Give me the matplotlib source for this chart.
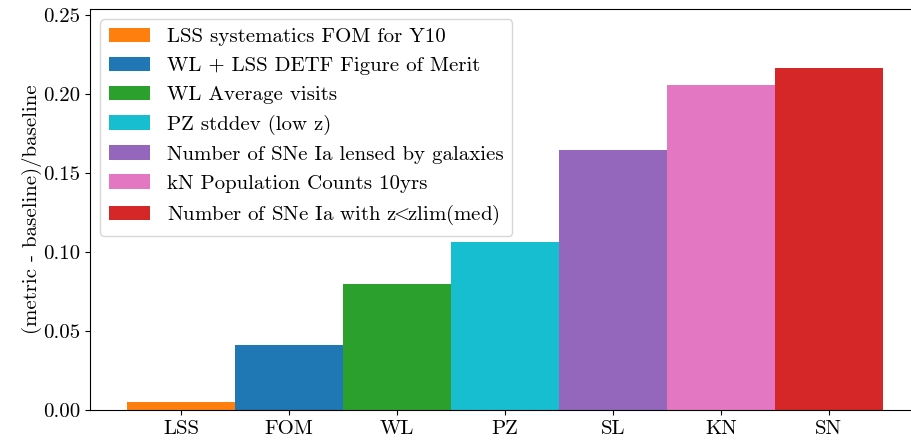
import matplotlib
matplotlib.use("Agg")
import matplotlib.pyplot as plt

# data
short_names = ["LSS", "FOM", "WL", "PZ", "SL", "KN", "SN"]
long_names = ["LSS systematics FOM for Y10",
              "WL + LSS DETF Figure of Merit",
              "WL Average visits",
              "PZ stddev (low z)",
              "Number of SNe Ia lensed by galaxies",
              "kN Population Counts 10yrs",
              r"Number of SNe Ia with z$\!\!<\!\!$zlim(med)"]
values = [0.005, 0.041, 0.0797, 0.1063, 0.1645, 0.2055, 0.2165]
colors = ["tab:orange", "tab:blue", "tab:green", "tab:cyan",
          "tab:purple", "tab:pink", "tab:red"]

plt.rcParams['font.family'] = ['cmr10']
plt.rcParams['mathtext.fontset'] = 'cm'
plt.rcParams['axes.unicode_minus'] = False
plt.rcParams['font.size'] = 15

fig = plt.figure(figsize=(9.12, 4.42), dpi=100)
ax = fig.add_axes([90/912, 32/442, 1 - 90/912, (410-9)/442])

xs = range(len(short_names))
for i in xs:
    ax.bar(i, values[i], width=1.0, color=colors[i], label=long_names[i])

ax.set_xticks(list(xs))
ax.set_xticklabels(short_names)
ax.set_xlim(-0.843, 6.77)
ax.set_ylim(0, 0.2538)
ax.set_yticks([0, 0.05, 0.10, 0.15, 0.20, 0.25])
ax.set_yticklabels(["0.00", "0.05", "0.10", "0.15", "0.20", "0.25"])
ax.set_ylabel("(metric - baseline)/baseline", labelpad=1)
ax.spines['right'].set_visible(False)
ax.legend(loc='upper left')

fig.savefig("out.png", dpi=100)
